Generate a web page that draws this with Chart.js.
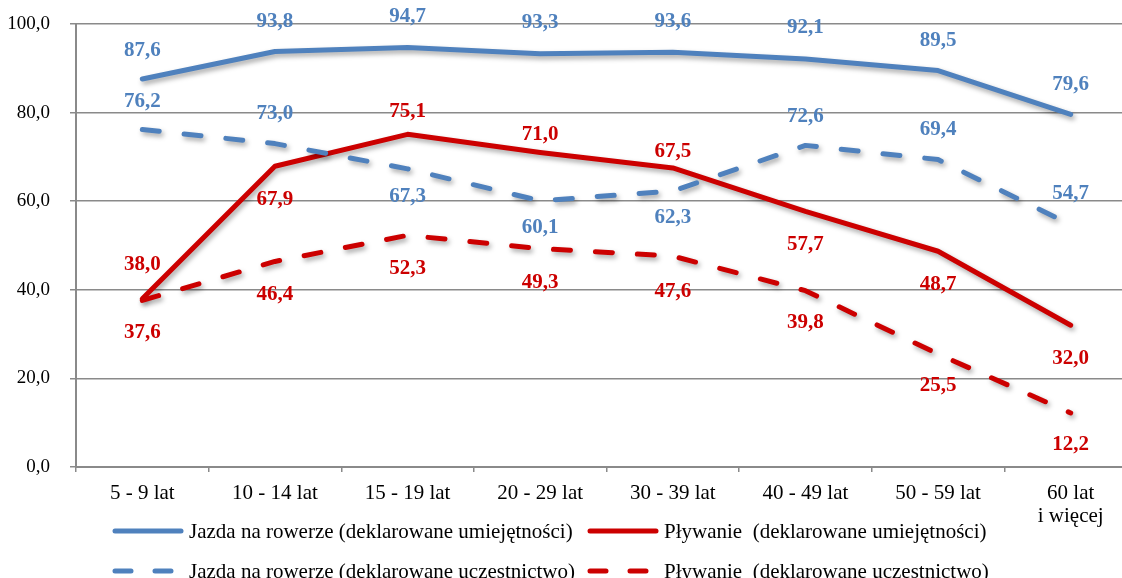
<!DOCTYPE html>
<html>
<head>
<meta charset="utf-8">
<script src="https://cdn.jsdelivr.net/npm/chart.js@4.4.1/dist/chart.umd.min.js"></script>
<style>
  html, body { margin: 0; padding: 0; background: #fff; overflow: hidden; }
  #wrap { position: relative; width: 1122px; height: 578px; overflow: hidden; }
  #chart { position: absolute; left: 0; top: 0; }
  .leg { position: absolute; font-family: 'Liberation Serif', serif; font-size: 21px; color: #000;
         white-space: pre; line-height: 20px; }
  .leg svg { position: absolute; left: 0; top: 5px; }
  .leg span { position: absolute; left: 77px; top: 0; }
</style>
</head>
<body>
<div id="wrap">
  <canvas id="chart" width="1137" height="578"></canvas>
  <div id="legend"></div>
</div>
<script>
// ===== 資料 =====
const categories = ['5 - 9 lat', '10 - 14 lat', '15 - 19 lat', '20 - 29 lat', '30 - 39 lat',
                    '40 - 49 lat', '50 - 59 lat', ['60 lat', 'i więcej']];

const rowerUmiejetnosci    = [87.6, 93.8, 94.7, 93.3, 93.6, 92.1, 89.5, 79.6];
const plywanieUmiejetnosci = [38.0, 67.9, 75.1, 71.0, 67.5, 57.7, 48.7, 32.0];
const rowerUczestnictwo    = [76.2, 73.0, 67.3, 60.1, 62.3, 72.6, 69.4, 54.7];
const plywanieUczestnictwo = [37.6, 46.4, 52.3, 49.3, 47.6, 39.8, 25.5, 12.2];

const yTicks = [0, 20, 40, 60, 80, 100];

// label offsets (px, relative to the point) – placement only
const offRowerUm   = [-28, -30, -31, -31, -31, -31, -30, -30];
const offPlywUm    = [-34,  33, -23, -18, -16,  33,  33,  33];
const offRowerUcz  = [-28, -30,  28,  27,  27, -29, -30, -31];
const offPlywUcz   = [ 32,  33,  33,  34,  35,  32,  32,  32];

const BLUE = '#4f81bd';
const RED  = '#cc0000';
const fmt = v => v.toFixed(1).replace('.', ',');

// ===== 陰影 plugin =====
const shadowPlugin = {
  id: 'shadow',
  beforeDatasetDraw(chart) {
    const ctx = chart.ctx;
    ctx.save();
    ctx.shadowColor = 'rgba(0,0,0,0.35)';
    ctx.shadowBlur = 5;
    ctx.shadowOffsetX = 2;
    ctx.shadowOffsetY = 3;
  },
  afterDatasetDraw(chart) {
    chart.ctx.restore();
  }
};

// ===== 數值標籤 plugin =====
const labelPlugin = {
  id: 'valueLabels',
  afterDatasetsDraw(chart) {
    const ctx = chart.ctx;
    ctx.save();
    ctx.font = 'bold 21px "Liberation Serif"';
    ctx.textAlign = 'center';
    ctx.textBaseline = 'middle';
    chart.data.datasets.forEach((ds, i) => {
      const meta = chart.getDatasetMeta(i);
      ctx.fillStyle = ds.borderColor;
      meta.data.forEach((pt, j) => {
        ctx.fillText(fmt(ds.data[j]), pt.x, pt.y + ds.labelOffsets[j]);
      });
    });
    ctx.restore();
  }
};

const line = (label, data, color, dashed, offs, order) => ({
  label, data,
  borderColor: color,
  backgroundColor: color,
  borderWidth: 5,
  borderDash: dashed ? [17, 25] : [],
  borderCapStyle: 'round',
  borderJoinStyle: 'round',
  pointRadius: 0,
  tension: 0,
  fill: false,
  labelOffsets: offs,
  order
});

const chart = new Chart(document.getElementById('chart'), {
  type: 'line',
  data: {
    labels: categories,
    datasets: [
      line('Jazda na rowerze (deklarowane umiejętności)', rowerUmiejetnosci, BLUE, false, offRowerUm, 4),
      line('Pływanie  (deklarowane umiejętności)', plywanieUmiejetnosci, RED, false, offPlywUm, 3),
      line('Jazda na rowerze (deklarowane uczestnictwo)', rowerUczestnictwo, BLUE, true, offRowerUcz, 2),
      line('Pływanie  (deklarowane uczestnictwo)', plywanieUczestnictwo, RED, true, offPlywUcz, 1)
    ]
  },
  options: {
    responsive: false,
    animation: false,
    layout: { padding: { top: 24, right: 0, bottom: 0, left: 0 } },
    plugins: { legend: { display: false }, tooltip: { enabled: false } },
    scales: {
      x: {
        offset: true,
        afterFit(s) { s.height = 111; },
        grid: { display: true, offset: true, drawOnChartArea: false, drawTicks: true,
                tickLength: 5, color: '#8a8a8a', lineWidth: 1.5 },
        border: { display: true, color: '#8a8a8a', width: 2 },
        ticks: { color: '#000', padding: 10, maxRotation: 0, autoSkip: false,
                 font: { family: 'Liberation Serif', size: 21, lineHeight: 1.1 } }
      },
      y: {
        min: 0, max: 100,
        afterFit(s) { s.width = 76; s.paddingTop = 0; s.paddingBottom = 0; },
        afterBuildTicks(s) { s.ticks = yTicks.map(v => ({ value: v })); },
        grid: { color: '#8a8a8a', lineWidth: 1.5, tickLength: 6 },
        border: { display: true, color: '#8a8a8a', width: 2 },
        ticks: { color: '#000', padding: 20, callback: v => fmt(v),
                 font: { family: 'Liberation Serif', size: 19 } }
      }
    }
  },
  plugins: [shadowPlugin, labelPlugin]
});

// ===== 圖例 (2 x 2) =====
const legendEl = document.getElementById('legend');
const legendPos = [[112, 521], [587, 521], [112, 561], [587, 561]];
chart.data.datasets.forEach((ds, k) => {
  const [x, y] = legendPos[k];
  const d = document.createElement('div');
  d.className = 'leg';
  d.style.left = x + 'px';
  d.style.top = y + 'px';
  const dash = ds.borderDash.length ? `stroke-dasharray="16 24"` : '';
  d.innerHTML =
    `<svg width="74" height="10"><line x1="3" y1="5" x2="69" y2="5" stroke="${ds.borderColor}"
       stroke-width="5" stroke-linecap="round" ${dash}/></svg><span>${ds.label}</span>`;
  legendEl.appendChild(d);
});
</script>
</body>
</html>
